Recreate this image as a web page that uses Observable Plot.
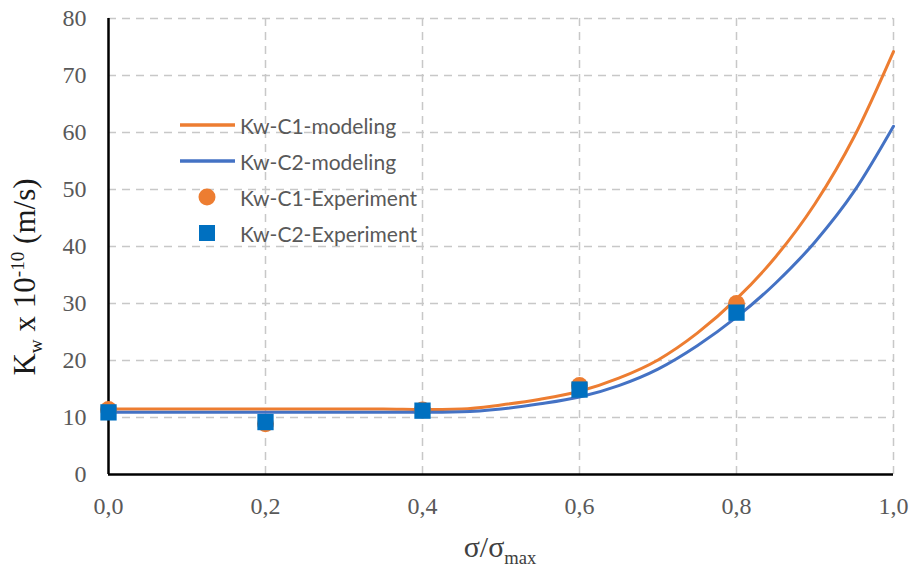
<!DOCTYPE html>
<html>
<head>
<meta charset="utf-8">
<script src="https://cdn.jsdelivr.net/npm/d3@7"></script>
<script src="https://cdn.jsdelivr.net/npm/@observablehq/plot@0.6"></script>
<style>
  body { margin: 0; background: #fff; }
  #wrap { position: relative; width: 912px; height: 567px; overflow: hidden; }
  #legend { position: absolute; left: 178px; top: 110px; font-family: Lato, "Open Sans", sans-serif; font-size: 21px; color: #595959; }
  .row { position: absolute; left: 0; height: 30px; width: 270px; display: flex; align-items: center; white-space: nowrap; }
  .row svg { width: 60px; height: 30px; flex: none; }
  .row span { margin-left: 2px; }
  #ylab { position: absolute; left: 27px; top: 277px; transform: translate(-50%, -50%) rotate(-90deg); font-family: "Liberation Serif", serif; font-size: 31px; color: #1a1a1a; white-space: nowrap; }
  #xlab { position: absolute; left: 500px; top: 549px; transform: translate(-50%, -50%); font-family: "Liberation Serif", serif; font-size: 30px; color: #404040; white-space: nowrap; }
  sub, sup { font-size: 0.62em; }
</style>
</head>
<body>
<div id="wrap"></div>
<script>
// Model curves
const xModel = [0, 0.05, 0.1, 0.15, 0.2, 0.25, 0.3, 0.35, 0.4, 0.45, 0.5, 0.55, 0.6, 0.65, 0.7, 0.75, 0.8, 0.85, 0.9, 0.95, 1.0];
const c1Model = [11.5, 11.5, 11.5, 11.5, 11.5, 11.5, 11.5, 11.5, 11.4, 11.5, 12.2, 13.2, 14.6, 16.9, 20.1, 24.8, 30.8, 38.2, 47.5, 59.3, 74.2];
const c2Model = [10.9, 10.9, 10.9, 10.9, 10.9, 10.9, 10.9, 10.9, 10.9, 11.0, 11.5, 12.4, 13.6, 15.6, 18.5, 22.6, 27.6, 33.6, 40.8, 49.7, 61.1];
// Experiment points
const xExp = [0, 0.2, 0.4, 0.6, 0.8];
const c1Exp = [11.4, 8.9, 11.3, 15.6, 30.0];
const c2Exp = [10.9, 9.2, 11.2, 14.9, 28.4];
// Series names / ticks
const seriesNames = ["Kw-C1-modeling", "Kw-C2-modeling", "Kw-C1-Experiment", "Kw-C2-Experiment"];
const xTicks = [0, 0.2, 0.4, 0.6, 0.8, 1.0];
const yTicks = [0, 10, 20, 30, 40, 50, 60, 70, 80];

const orange = "#ED7D31", blueLine = "#4472C4", blueSq = "#0070C0";

const m1 = xModel.map((x, i) => ({x, y: c1Model[i]}));
const m2 = xModel.map((x, i) => ({x, y: c2Model[i]}));
const e1 = xExp.map((x, i) => ({x, y: c1Exp[i]}));
const e2 = xExp.map((x, i) => ({x, y: c2Exp[i]}));

const fmt = d => d.toFixed(1).replace(".", ",");

const chart = Plot.plot({
  width: 912,
  height: 567,
  marginLeft: 108,
  marginRight: 19,
  marginTop: 18,
  marginBottom: 93,
  style: { fontFamily: "'Liberation Serif', serif", fontSize: "24px", color: "#595959", background: "#fff" },
  x: { domain: [0, 1], ticks: xTicks, tickFormat: fmt, label: null },
  y: { domain: [0, 80], ticks: yTicks, label: null },
  marks: [
    Plot.gridX(xTicks.slice(1), { stroke: "#c8c8c8", strokeOpacity: 1, strokeWidth: 1.5, strokeDasharray: "8,6" }),
    Plot.gridY(yTicks.slice(1), { stroke: "#c8c8c8", strokeOpacity: 1, strokeWidth: 1.5, strokeDasharray: "8,6" }),
    Plot.axisX(xTicks, { tickSize: 0, tickPadding: 22, tickFormat: fmt, fill: "#595959", fontSize: 24 }),
    Plot.axisY(yTicks, { tickSize: 0, tickPadding: 22, fill: "#595959", fontSize: 24 }),
    Plot.ruleY([0], { stroke: "#000", strokeWidth: 2.5 }),
    Plot.ruleX([0], { stroke: "#000", strokeWidth: 2.5 }),
    Plot.line(m1, { x: "x", y: "y", stroke: orange, strokeWidth: 3, curve: "monotone-x" }),
    Plot.line(m2, { x: "x", y: "y", stroke: blueLine, strokeWidth: 3, curve: "monotone-x" }),
    Plot.dot(e1, { x: "x", y: "y", fill: orange, r: 8.5, symbol: "circle" }),
    Plot.dot(e2, { x: "x", y: "y", fill: blueSq, r: 9.2, symbol: "square" })
  ]
});

const wrap = document.getElementById("wrap");
wrap.appendChild(chart);

// Legend
const legend = document.createElement("div");
legend.id = "legend";
const rowsY = [0, 36, 72, 108];
const swatches = [
  `<svg><line x1="2" x2="57" y1="15" y2="15" stroke="${orange}" stroke-width="3.5"/></svg>`,
  `<svg><line x1="2" x2="57" y1="15" y2="15" stroke="${blueLine}" stroke-width="3.5"/></svg>`,
  `<svg><circle cx="29" cy="15" r="8.5" fill="${orange}"/></svg>`,
  `<svg><rect x="21" y="7" width="16" height="16" fill="${blueSq}"/></svg>`
];
seriesNames.forEach((name, i) => {
  const row = document.createElement("div");
  row.className = "row";
  row.style.top = rowsY[i] + "px";
  row.innerHTML = swatches[i] + `<span>${name}</span>`;
  legend.appendChild(row);
});
wrap.appendChild(legend);

const ylab = document.createElement("div");
ylab.id = "ylab";
ylab.innerHTML = "K<sub>w</sub> x 10<sup>-10</sup> (m/s)";
wrap.appendChild(ylab);

const xlab = document.createElement("div");
xlab.id = "xlab";
xlab.innerHTML = "σ/σ<sub>max</sub>";
wrap.appendChild(xlab);
</script>
</body>
</html>
